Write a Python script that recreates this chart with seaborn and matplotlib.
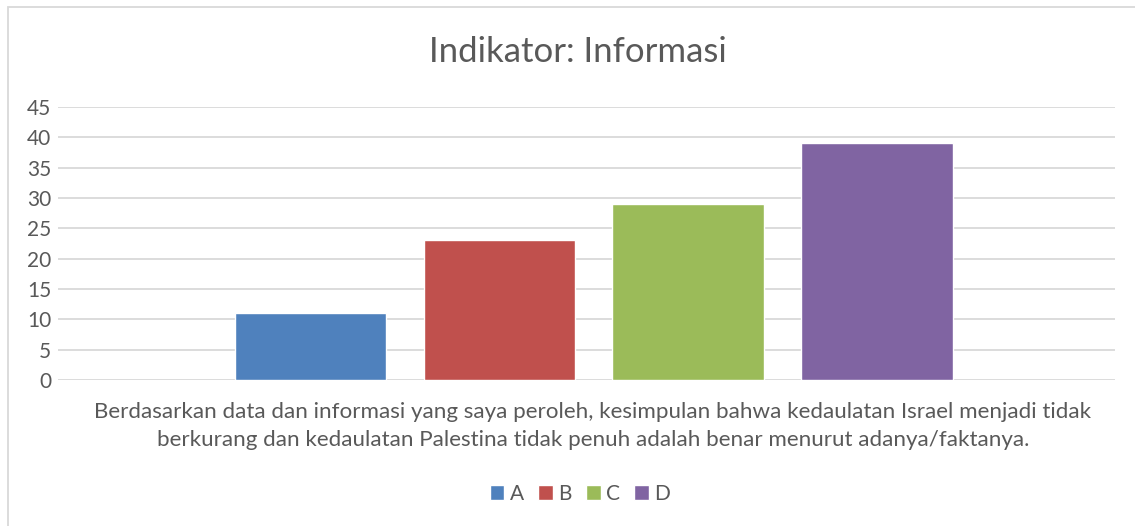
import pandas as pd
import seaborn as sns
from matplotlib import pyplot as plt
from matplotlib.patches import Rectangle

categories = ['A', 'B', 'C', 'D']
values = [11, 23, 29, 39]
colors = ['#4F81BD', '#C0504D', '#9BBB59', '#8064A2']
title = 'Indikator: Informasi'
xlabel = ('Berdasarkan data dan informasi yang saya peroleh, kesimpulan bahwa kedaulatan Israel menjadi tidak\n'
          'berkurang dan kedaulatan Palestina tidak penuh adalah benar menurut adanya/faktanya.')
yticks = list(range(0, 50, 5))

df = pd.DataFrame({'group': [''] * len(categories), 'answer': categories, 'count': values})

sns.set_theme(style='white')
plt.rcParams['font.family'] = ['Lato', 'DejaVu Sans']

fig = plt.figure(figsize=(11.35, 5.26), dpi=100)
ax = fig.add_axes([58 / 1135, 1 - 380 / 526, (1115 - 58) / 1135, (380 - 107) / 526])

sns.barplot(data=df, x='group', y='count', hue='answer', palette=colors, gap=0.2,
            saturation=1, ax=ax, zorder=3)

ax.set_xlim(-0.567, 0.552)
ax.set_ylim(0, 45)
ax.set_yticks(yticks)
ax.yaxis.grid(True, color='#d9d9d9', linewidth=1.3, zorder=0)
ax.set_axisbelow(True)
for s in ax.spines.values():
    s.set_visible(False)
ax.tick_params(axis='y', length=0, pad=5, labelsize=15, labelcolor='#595959')
ax.tick_params(axis='x', length=0)
ax.set_xticklabels([])
ax.set_ylabel('')
ax.set_xlabel(xlabel, fontsize=16.1, color='#595959', linespacing=1.5)
ax.xaxis.set_label_coords(0.506, -0.082)
ax.xaxis.label.set_va('top')

fig.text(578 / 1135, 1 - 52 / 526, title, ha='center', va='center', fontsize=25, color='#595959')

sns.move_legend(ax, 'center', bbox_to_anchor=(580 / 1135, 1 - 494 / 526),
                bbox_transform=fig.transFigure, ncol=4, frameon=False, title=None,
                fontsize=15, handlelength=0.7, handleheight=0.7, handletextpad=0.25,
                columnspacing=0.7, labelcolor='#595959')

fig.add_artist(Rectangle((8 / 1135, -0.1), 1.2, 1 - 7 / 526 + 0.1, transform=fig.transFigure,
                         fill=False, edgecolor='#d9d9d9', linewidth=1.3))

fig.savefig('out.png', dpi=100)
